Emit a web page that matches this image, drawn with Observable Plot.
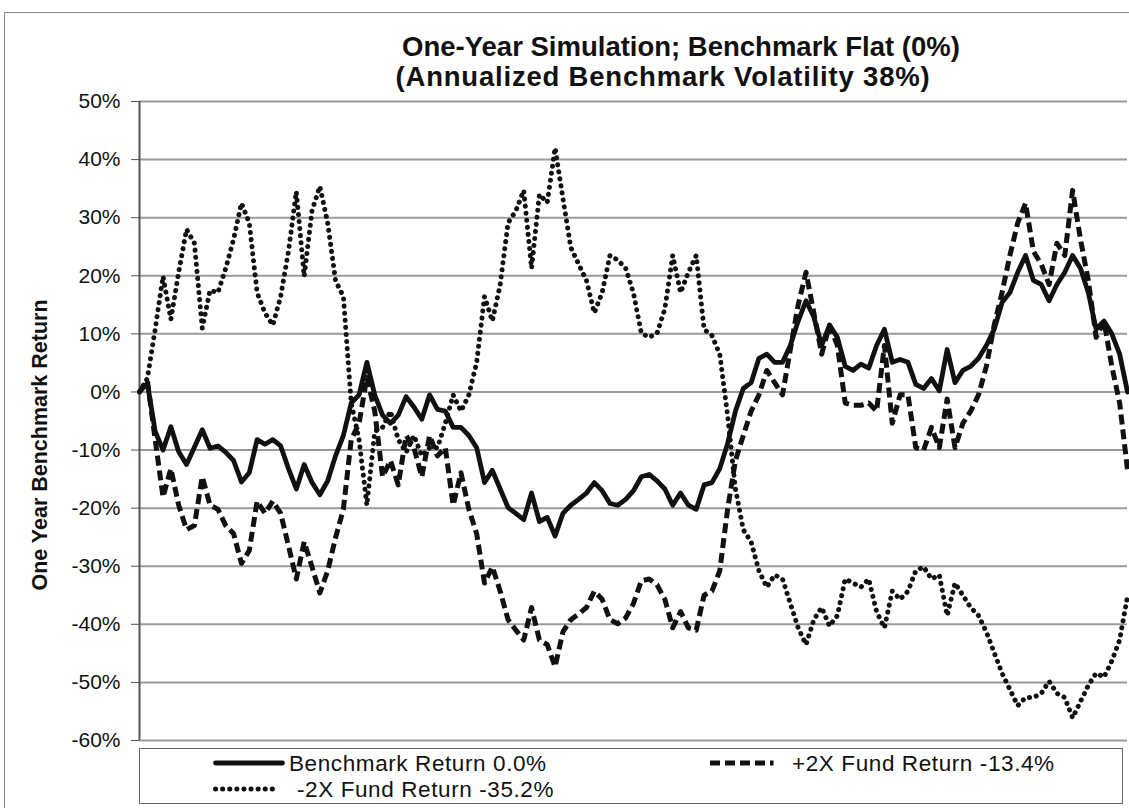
<!DOCTYPE html>
<html>
<head>
<meta charset="utf-8">
<script src="https://cdn.jsdelivr.net/npm/d3@7"></script>
<script src="https://cdn.jsdelivr.net/npm/@observablehq/plot@0.6"></script>
<style>
  body { margin: 0; background: #fff; font-family: "Liberation Sans", Arial, sans-serif; color: #111; }
  #wrap { position: relative; width: 1129px; height: 808px; overflow: hidden; background: #fff; }
  #frame { position: absolute; left: 4px; top: 12px; width: 1140px; height: 820px; border: 1.5px solid #8a8a8a; box-sizing: border-box; }
  #chart { position: absolute; left: 0; top: 0; }
  .title { position: absolute; width: 700px; text-align: center; font-weight: bold; font-size: 27.5px; line-height: 30px; white-space: nowrap; }
  #ylabel { position: absolute; left: 40px; top: 445px; transform: translate(-50%, -50%) rotate(-90deg); font-weight: bold; font-size: 21.5px; white-space: nowrap; }
  #legend { position: absolute; left: 139px; top: 748px; width: 984px; height: 56px; border: 1.5px solid #666; box-sizing: border-box; background: #fff; }
  .item { position: absolute; display: flex; align-items: center; font-size: 22.5px; letter-spacing: 0.6px; line-height: 25px; white-space: nowrap; height: 26px; }
  .item svg { margin-right: 4px; }
</style>
</head>
<body>
<div id="wrap">
  <div id="frame"></div>
  <div id="chart"></div>
  <div class="title" style="top:32px;left:331px">One-Year Simulation; Benchmark Flat (0%)</div>
  <div class="title" style="top:62px;left:313px;letter-spacing:0.8px">(Annualized Benchmark Volatility 38%)</div>
  <div id="ylabel">One Year Benchmark Return</div>
  <div id="legend"></div>
</div>
<script>
// ---- data (percent returns, sampled every ~2 trading days) ----
const benchmark = [0, 1.5, -6.8, -10, -6, -10.3, -12.5, -9.5, -6.5, -9.7, -9.3, -10.4, -11.8, -15.5, -13.9, -8.2, -9, -8.2, -9.3, -13.2,
  -16.7, -12.5, -15.6, -17.7, -15.3, -11, -7.5, -1.9, -0.5, 5.1, -0.5, -4, -5.4, -4, -0.8, -2.6, -4.7, -0.5, -3, -3.3,
  -6.1, -6.1, -7.5, -9.6, -15.6, -13.5, -16.7, -19.9, -20.9, -22, -17.4, -22.3, -21.6, -24.8, -20.9, -19.5, -18.5, -17.4, -15.6, -17,
  -19.2, -19.5, -18.5, -17, -14.6, -14.2, -15.3, -16.7, -19.5, -17.4, -19.5, -20.2, -16, -15.6, -13.2, -8.9, -3.3, 0.6, 1.6, 5.8,
  6.5, 5.1, 5.1, 8, 12.2, 15.7, 12.9, 8, 11.5, 9.4, 4.4, 3.7, 4.8, 4.1, 8, 10.8, 5.1, 5.6, 5.1, 1.3,
  0.6, 2.3, 0.2, 7.3, 1.6, 3.7, 4.4, 5.8, 8, 10.8, 15.4, 17.1, 20.6, 23.5, 19.2, 18.5, 15.7, 18.5, 20.6, 23.5,
  21.3, 17.1, 10.8, 12.2, 10, 6.5, 0];
const plus2x = [0, 2, -8.2, -18.1, -13.2, -19.5, -23.7, -23, -14.6, -19.5, -20.2, -23, -24.4, -29.5, -27.3, -18.8, -20.9, -18.8, -20.9, -26.5,
  -32.2, -25.8, -30.1, -34.6, -30.8, -25.1, -20.2, -8.2, -5.4, 2.5, -3.3, -14.6, -11.8, -16, -7.5, -9.6, -14.6, -7.5, -11, -9.6,
  -19.5, -13.9, -20.2, -24.4, -32.9, -30.1, -34.3, -39.2, -41, -42.7, -37.1, -42.7, -43.5, -47.3, -41.3, -39.2, -38.2, -37.1, -34.3, -35.7,
  -39.2, -39.9, -38.9, -36.4, -32.5, -32.2, -33.2, -35.7, -40.6, -37.8, -40.6, -41, -35, -34.3, -30.8, -20.2, -11.8, -7.5, -3.3, -0.5,
  3.7, 1.6, -0.5, 7.3, 15, 20.6, 13.6, 6.5, 11.5, 8, -1.9, -2.3, -2.3, -1.9, -3.3, 8, -5.4, -0.5, -0.5, -9.6,
  -10, -6.1, -9.6, -1.2, -9.6, -5.4, -3.3, -0.5, 4.4, 11.5, 17.1, 23.5, 29.1, 32.5, 24.2, 22, 18.5, 25.6, 23.5, 34.7,
  26.3, 19.2, 9.4, 12.2, 4.4, -1.9, -13.4];
const minus2x = [0, 2.3, 10.8, 19.9, 12.5, 20.6, 28, 25.6, 11, 17.5, 17.1, 21.3, 26.3, 32.5, 29.1, 17.1, 13.6, 11.5, 16.4, 24.2,
  34.5, 19.9, 31.2, 35.4, 29.1, 19.2, 16.4, -1.9, -8.2, -19.5, -6.8, -6.1, -3.3, -8.2, -10.4, -7.5, -11, -9.6, -9.6, -5.4,
  -0.5, -3.3, -0.5, 5.1, 16.4, 12.2, 18.5, 29.1, 31.2, 34.7, 21.3, 34, 32.6, 42, 33.3, 24.9, 22, 19.2, 13.6, 17.1,
  23.5, 22.7, 21.3, 17, 10.1, 9.4, 10.1, 14.3, 23.5, 17.1, 20.6, 23.5, 10.8, 9.7, 6.5, -4, -16.7, -23.7, -25.8, -30.8,
  -33.6, -31.5, -32.2, -36.4, -40.6, -43.5, -39.2, -37.1, -40.3, -38.5, -32.2, -32.9, -33.6, -32.2, -37.8, -40.6, -34.3, -35.7, -34.3, -30.8,
  -30.1, -32.2, -31.5, -38.5, -32.9, -35, -37.1, -38.5, -41.3, -44.9, -48.4, -51.2, -54, -52.6, -52.6, -51.9, -49.8, -51.9, -52.6, -56.1,
  -53.3, -50.5, -48.4, -49.1, -46.3, -42.7, -35.2];
const yTicks = [50, 40, 30, 20, 10, 0, -10, -20, -30, -40, -50, -60];
const seriesNames = ["Benchmark Return 0.0%", "+2X Fund Return -13.4%", "-2X Fund Return -35.2%"];

// ---- styles ----
const styles = [
  {strokeWidth: 4.8, strokeDasharray: null, strokeLinecap: "round"},
  {strokeWidth: 5, strokeDasharray: "10,5", strokeLinecap: "butt"},
  {strokeWidth: 5, strokeDasharray: "0.1,7", strokeLinecap: "round"}
];
const seriesValues = [benchmark, plus2x, minus2x];
const tables = seriesValues.map(vals => vals.map((v, i) => ({i, v})));

const lineMarks = [2, 1, 0].map(s => Plot.line(tables[s], {
  x: "i", y: "v", stroke: "#111",
  strokeWidth: styles[s].strokeWidth,
  strokeDasharray: styles[s].strokeDasharray || undefined,
  strokeLinecap: styles[s].strokeLinecap,
  strokeLinejoin: "round"
}));

const chart = Plot.plot({
  width: 1129,
  height: 808,
  marginLeft: 139,
  marginRight: 2,
  marginTop: 101,
  marginBottom: 68,
  style: {fontFamily: "'Liberation Sans', Arial, sans-serif", fontSize: "21px", color: "#111", background: "transparent", overflow: "visible"},
  x: {domain: [0, benchmark.length - 1], axis: null},
  y: {domain: [-60, 50], axis: null},
  marks: [
    Plot.gridY(yTicks, {stroke: "#9a9a9a", strokeOpacity: 1, strokeWidth: 2}),
    Plot.axisY(yTicks, {tickFormat: d => d + "%", tickSize: 8, tickPadding: 11, label: null, stroke: "#555", fill: "#111", fontSize: 21}),
    Plot.ruleX([0], {stroke: "#555", strokeWidth: 2}),
    ...lineMarks
  ]
});
document.getElementById("chart").appendChild(chart);

// ---- legend ----
const legend = document.getElementById("legend");
const positions = [
  {left: 73, top: 1, w: 72, gap: 0},
  {left: 570, top: 1, w: 66, gap: 12},
  {left: 73, top: 27, w: 68, gap: 12}
];
seriesNames.forEach((name, s) => {
  const p = positions[s];
  const div = document.createElement("div");
  div.className = "item";
  div.style.left = p.left + "px";
  div.style.top = p.top + "px";
  const st = styles[s];
  div.innerHTML = `<svg width="${p.w}" height="12"><line x1="${st.strokeLinecap === 'round' ? 2.5 : 0}" y1="6" x2="${p.w - 2.5}" y2="6" stroke="#111" stroke-width="${st.strokeWidth}" ${st.strokeDasharray ? `stroke-dasharray="${st.strokeDasharray}"` : ""} stroke-linecap="${st.strokeLinecap}"/></svg><span style="margin-left:${p.gap}px">${name}</span>`;
  legend.appendChild(div);
});
</script>
</body>
</html>
